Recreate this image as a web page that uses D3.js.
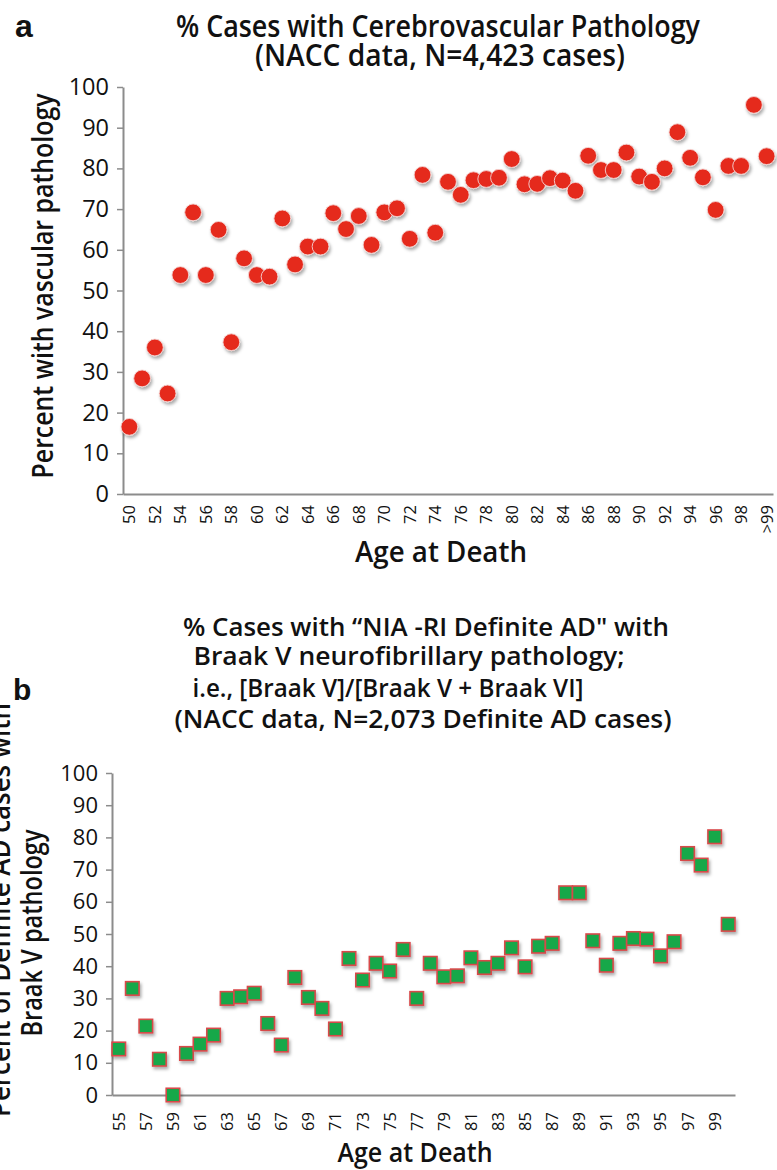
<!DOCTYPE html>
<html>
<head>
<meta charset="utf-8">
<script src="https://cdn.jsdelivr.net/npm/d3@7/dist/d3.min.js"></script>
<style>
  html, body { margin: 0; padding: 0; background: #fff; }
  svg { display: block; font-family: "Open Sans", "DejaVu Sans", sans-serif; }
</style>
</head>
<body>
<svg id="chart" width="777" height="1170"></svg>
<script>
// ---------- DATA ----------
const agesA = ["50","51","52","53","54","55","56","57","58","59","60","61","62","63","64","65","66","67","68","69","70","71","72","73","74","75","76","77","78","79","80","81","82","83","84","85","86","87","88","89","90","91","92","93","94","95","96","97","98","99",">99"];
const vascularPct = [16.5,28.4,36.0,24.7,53.8,69.2,53.8,64.9,37.3,57.9,53.8,53.4,67.7,56.4,60.8,60.8,69.0,65.1,68.3,61.2,69.2,70.2,62.7,78.4,64.2,76.7,73.5,77.1,77.4,77.7,82.3,76.1,76.2,77.6,77.0,74.5,83.1,79.6,79.6,83.9,78.0,76.7,80.0,88.9,82.6,77.8,69.8,80.6,80.6,95.6,83.0];

const agesB = ["55","56","57","58","59","60","61","62","63","64","65","66","67","68","69","70","71","72","73","74","75","76","77","78","79","80","81","82","83","84","85","86","87","88","89","90","91","92","93","94","95","96","97","98","99",">99"];
const braakVPct = [14.3,33.1,21.4,11.1,0.0,12.9,15.8,18.6,30.0,30.5,31.6,22.2,15.5,36.5,30.3,26.9,20.5,42.4,35.7,40.9,38.5,45.2,30.0,40.9,36.7,37.0,42.6,39.6,40.9,45.7,39.8,46.2,47.1,62.8,62.8,47.9,40.3,47.1,48.6,48.4,43.2,47.6,75.0,71.4,80.2,53.0];

const yTickValues = [0,10,20,30,40,50,60,70,80,90,100];
const tickLabelsA = ["50","52","54","56","58","60","62","64","66","68","70","72","74","76","78","80","82","84","86","88","90","92","94","96","98",">99"];
const tickLabelsB = ["55","57","59","61","63","65","67","69","71","73","75","77","79","81","83","85","87","89","91","93","95","97","99"];

const titleA = ["% Cases with Cerebrovascular Pathology", "(NACC data, N=4,423 cases)"];
const titleB = ["% Cases with \u201CNIA -RI Definite  AD\" with", "Braak V  neurofibrillary pathology;", "i.e., [Braak V]/[Braak V + Braak VI]", "(NACC data, N=2,073 Definite AD cases)"];

// ---------- DRAW ----------
const svg = d3.select("#chart");
const AXIS = "#8c8c8c";
const RED = "#e5291f";
const GREEN = "#17a84a";

const defs = svg.append("defs");
const f = defs.append("filter").attr("id","shadow").attr("x","-50%").attr("y","-50%").attr("width","200%").attr("height","200%");
f.append("feDropShadow").attr("dx",1.5).attr("dy",2.5).attr("stdDeviation",1.5)
  .attr("flood-color","#000").attr("flood-opacity",0.33);

function fit(sel, w) {
  sel.attr("textLength", w).attr("lengthAdjust", "spacingAndGlyphs");
}
function addText(x, y, str, size, w, opts = {}) {
  const t = svg.append("text").attr("x", x).attr("y", y).text(str)
    .attr("font-size", size).attr("fill", "#111")
    .attr("font-weight", opts.weight || 600)
    .attr("text-anchor", opts.anchor || "middle");
  if (opts.family) t.attr("font-family", opts.family);
  if (opts.rotate) t.attr("transform", `rotate(-90 ${x} ${y})`);
  if (w) fit(t, w);
  return t;
}

function panel(cfg) {
  const x = d3.scaleBand().domain(cfg.cats).range([cfg.left, cfg.right]).paddingInner(0).paddingOuter(0);
  const y = d3.scaleLinear().domain([0,100]).range([cfg.bottom, cfg.top]);
  const cx = d => x(d) + x.bandwidth()/2;

  // y axis
  const gy = svg.append("g").attr("transform", `translate(${cfg.left},0)`)
    .call(d3.axisLeft(y).tickValues(yTickValues).tickSize(6).tickPadding(cfg.yPad).tickSizeOuter(0));
  gy.select(".domain").attr("stroke", AXIS).attr("stroke-width", 2);
  gy.selectAll(".tick line").attr("stroke", AXIS).attr("stroke-width", 1.5);
  gy.selectAll(".tick text").attr("font-size", cfg.yFont).attr("fill", "#111")
    .attr("font-family", "'Open Sans', sans-serif");

  // x axis
  const xAxis = d3.axisBottom(x).tickValues(cfg.tickLabels).tickSize(0).tickSizeOuter(0);
  const gx = svg.append("g").attr("transform", `translate(0,${cfg.bottom})`).call(xAxis);
  gx.select(".domain").attr("stroke", AXIS).attr("stroke-width", 2.2);
  gx.selectAll(".tick text")
    .attr("transform", "rotate(-90)")
    .attr("x", -cfg.xPad).attr("y", 0).attr("dy", "0.36em")
    .attr("text-anchor", "end")
    .attr("font-size", cfg.xFont).attr("fill", "#111")
    .attr("font-family", "'Open Sans', sans-serif");

  // marks
  const g = svg.append("g").attr("filter", "url(#shadow)");
  const data = cfg.cats.map((c, i) => ({c, v: cfg.values[i]}));
  if (cfg.shape === "circle") {
    g.selectAll("circle").data(data).join("circle")
      .attr("cx", d => cx(d.c)).attr("cy", d => y(d.v)).attr("r", 8.4)
      .attr("fill", RED).attr("stroke", "#f4d6d3").attr("stroke-width", 0.9);
  } else {
    const s = 13.5;
    g.selectAll("rect").data(data).join("rect")
      .attr("x", d => cx(d.c) - s/2).attr("y", d => y(d.v) - s/2)
      .attr("width", s).attr("height", s)
      .attr("fill", GREEN).attr("stroke", "#d8494a").attr("stroke-width", 1.6);
  }
}

panel({cats: agesA, values: vascularPct, tickLabels: tickLabelsA, shape: "circle",
  left: 123, right: 773, top: 87, bottom: 494, yPad: 8, yFont: 23.5, xPad: 11, xFont: 16.5});
panel({cats: agesB, values: braakVPct, tickLabels: tickLabelsB, shape: "square",
  left: 112, right: 735, top: 773, bottom: 1095, yPad: 8, yFont: 22, xPad: 17, xFont: 16.5});

// panel letters
addText(15, 37, "a", 32, null, {anchor: "start", weight: "bold", family: "'Liberation Sans', Arial, sans-serif"});
addText(13, 700, "b", 30, null, {anchor: "start", weight: "bold", family: "'Liberation Sans', Arial, sans-serif"});

// titles
addText(438, 37, titleA[0], 30, 524);
addText(440, 66, titleA[1], 30, 370);
addText(426, 636, titleB[0], 26, 486);
addText(409, 665, titleB[1], 26, 431);
addText(388, 697, titleB[2], 26, 391);
addText(423, 728, titleB[3], 26, 497);

// axis titles
addText(441, 562, "Age at Death", 28, 172);
addText(415, 1162, "Age at Death", 27, 155);
addText(53, 286, "Percent with vascular pathology", 29, 385, {rotate: true});
addText(10, 910, "Percent of Definite AD cases with", 28, 414, {rotate: true});
addText(42, 933, "Braak V pathology", 28, 207, {rotate: true});
</script>
</body>
</html>
